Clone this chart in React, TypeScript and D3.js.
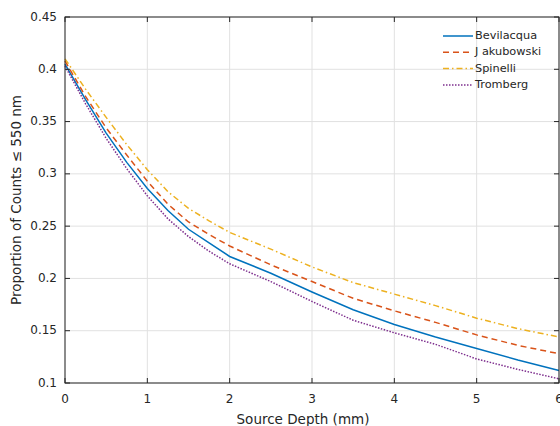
import React from "react";
import * as d3 from "d3";

const depths = [0, 0.25, 0.5, 0.75, 1, 1.25, 1.5, 1.75, 2, 2.5, 3, 3.5, 4, 4.5, 5, 5.5, 6];
const bevilacqua = [0.405, 0.371, 0.339, 0.311, 0.286, 0.265, 0.247, 0.234, 0.221, 0.205, 0.187, 0.170, 0.156, 0.144, 0.133, 0.122, 0.112];
const jakubowski = [0.408, 0.374, 0.344, 0.318, 0.293, 0.271, 0.254, 0.242, 0.231, 0.213, 0.197, 0.181, 0.169, 0.158, 0.146, 0.136, 0.128];
const spinelli = [0.410, 0.381, 0.354, 0.328, 0.304, 0.283, 0.267, 0.255, 0.244, 0.228, 0.211, 0.196, 0.185, 0.174, 0.162, 0.152, 0.144];
const tromberg = [0.403, 0.367, 0.334, 0.305, 0.279, 0.257, 0.240, 0.226, 0.214, 0.197, 0.178, 0.160, 0.148, 0.137, 0.123, 0.113, 0.104];

const seriesNames = ["Bevilacqua", "J akubowski", "Spinelli", "Tromberg"];
const xTicks = [0, 1, 2, 3, 4, 5, 6];
const yTicks = [0.1, 0.15, 0.2, 0.25, 0.3, 0.35, 0.4, 0.45];

const colors = ["#0072BD", "#D95319", "#EDB120", "#7E2F8E"];
const dashes = ["", "6,4", "6,3,1.5,3", "1.5,1.5"];

export default function App() {
  const W = 560, H = 426;
  const L = 65, R = 559, T = 17, B = 383;
  const x = d3.scaleLinear().domain([0, 6]).range([L, R]);
  const y = d3.scaleLinear().domain([0.1, 0.45]).range([B, T]);
  const all = [bevilacqua, jakubowski, spinelli, tromberg];
  const line = d3.line<number>().x((_, i) => x(depths[i])).y((d) => y(d));
  const font = "'DejaVu Sans', sans-serif";
  const axisColor = "#262626";
  const textColor = "#262626";
  const tick = 5;

  return (
    <svg width={W} height={H} style={{ position: "absolute", left: 0, top: 0 }} fontFamily={font}>
      <rect x={0} y={0} width={W} height={H} fill="#fff" />
      {/* grid */}
      {xTicks.map((t) => (
        <line key={"gx" + t} x1={x(t)} x2={x(t)} y1={T} y2={B} stroke="#e1e1e1" strokeWidth={1} />
      ))}
      {yTicks.map((t) => (
        <line key={"gy" + t} x1={L} x2={R} y1={y(t)} y2={y(t)} stroke="#e1e1e1" strokeWidth={1} />
      ))}
      {/* series */}
      {all.map((s, i) => (
        <path key={i} d={line(s) || ""} fill="none" stroke={colors[i]} strokeWidth={1.5}
          strokeDasharray={dashes[i] || undefined} />
      ))}
      {/* box */}
      <rect x={L} y={T} width={R - L} height={B - T} fill="none" stroke={axisColor} strokeWidth={1} />
      {/* ticks */}
      {xTicks.map((t) => (
        <g key={"tx" + t}>
          <line x1={x(t)} x2={x(t)} y1={B} y2={B - tick} stroke={axisColor} />
          <line x1={x(t)} x2={x(t)} y1={T} y2={T + tick} stroke={axisColor} />
          <text x={x(t)} y={399} fontSize={12} textAnchor="middle" dominantBaseline="middle" fill={textColor}>{t}</text>
        </g>
      ))}
      {yTicks.map((t) => (
        <g key={"ty" + t}>
          <line x1={L} x2={L + tick} y1={y(t)} y2={y(t)} stroke={axisColor} />
          <line x1={R} x2={R - tick} y1={y(t)} y2={y(t)} stroke={axisColor} />
          <text x={57} y={y(t)} fontSize={12} textAnchor="end" dominantBaseline="middle" fill={textColor}>{String(t)}</text>
        </g>
      ))}
      {/* axis labels */}
      <text x={(L + R) / 2 - 9} y={420} fontSize={13.5} textAnchor="middle" dominantBaseline="middle" fill={textColor}>Source Depth (mm)</text>
      <text transform={`translate(17, ${(T + B) / 2}) rotate(-90)`} fontSize={13.5} textAnchor="middle" dominantBaseline="middle" fill={textColor}>Proportion of Counts ≤ 550 nm</text>
      {/* legend */}
      {seriesNames.map((n, i) => (
        <g key={"lg" + i}>
          <line x1={443} x2={473} y1={36 + i * 16.3} y2={36 + i * 16.3} stroke={colors[i]} strokeWidth={1.5}
            strokeDasharray={dashes[i] || undefined} />
          <text x={475} y={36 + i * 16.3} fontSize={11.3} dominantBaseline="middle" fill={textColor}>{n}</text>
        </g>
      ))}
    </svg>
  );
}
